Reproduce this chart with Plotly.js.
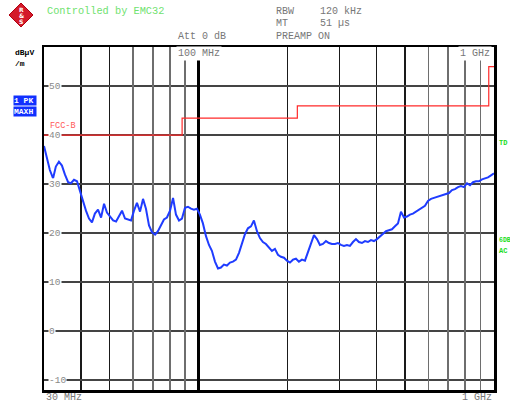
<!DOCTYPE html>
<html><head><meta charset="utf-8">
<script src="https://cdn.plot.ly/plotly-3.0.1.min.js"></script>
<style>html,body{margin:0;padding:0;background:#fff}#chart{width:510px;height:405px}</style>
</head><body><div id="chart"></div>
<script>
// Measured spectrum (MaxPeak), frequency in MHz, level in dBµV/m
const freqMHz = [
30.0,30.7,31.4,32.2,32.9,33.7,34.5,35.3,36.2,37.0,
37.9,38.8,39.7,40.7,41.6,42.6,43.6,44.6,45.7,46.8,
47.9,49.0,50.2,51.4,52.6,53.8,55.1,56.4,57.7,59.1,
60.5,61.9,63.4,64.9,66.4,68.0,69.6,71.3,72.9,74.7,
76.4,78.2,80.1,82.0,83.9,85.9,87.9,90.0,92.1,94.3,
96.5,98.8,101.1,103.5,106.0,108.5,111.0,113.7,116.4,119.1,
121.9,124.8,127.8,130.8,133.9,137.1,140.3,143.6,147.0,150.5,
154.0,157.7,161.4,165.2,169.1,173.1,177.2,181.4,185.7,190.1,
194.6,199.2,203.9,208.8,213.7,218.7,223.9,229.2,234.6,240.2,
245.9,251.7,257.6,263.7,270.0,276.4,282.9,289.6,296.4,303.4,
310.6,318.0,325.5,333.2,341.1,349.1,357.4,365.8,374.5,383.3,
392.4,401.7,411.2,420.9,430.9,441.1,451.5,462.2,473.1,484.3,
495.8,507.5,519.5,531.8,544.4,557.3,570.5,584.0,597.8,612.0,
626.4,641.3,656.4,672.0,687.9,704.2,720.8,737.9,755.3,773.2,
791.5,810.2,829.4,849.0,869.1,889.7,910.7,932.3,954.3,976.9,
1000.0];
const levelDb = [
37.8,35.2,32.9,31.2,33.6,34.6,33.8,32.0,30.4,30.2,
30.9,30.6,28.6,26.4,24.6,23.0,22.2,24.0,24.8,23.2,
26.0,24.2,23.4,22.6,22.4,23.4,24.6,23.0,22.8,22.6,
24.6,26.2,24.4,27.0,25.0,21.6,20.2,19.7,20.4,21.6,
22.8,23.2,24.6,27.2,23.8,22.6,23.0,25.2,25.4,25.0,
24.8,25.0,23.8,22.0,19.4,17.6,16.4,14.2,12.8,13.0,
13.6,13.4,14.0,14.2,14.6,16.0,17.8,19.8,21.0,21.4,
22.6,20.4,19.0,18.2,17.8,17.2,16.4,16.8,15.6,15.2,
15.0,14.4,14.0,14.6,14.8,14.2,14.6,14.4,16.0,17.6,
19.6,18.8,17.6,17.8,18.4,18.0,17.8,17.8,18.0,17.6,
17.4,17.6,17.4,18.2,18.8,18.2,18.0,18.4,18.2,18.6,
18.4,18.8,19.4,20.0,20.4,20.6,20.8,21.4,22.0,24.4,
23.2,23.4,23.8,24.0,24.4,24.8,25.2,25.6,26.6,27.0,
27.2,27.4,27.6,27.8,28.0,28.2,28.8,29.0,29.4,29.6,
29.4,30.2,29.8,30.4,30.6,30.6,31.0,31.2,31.4,31.8,
32.2];
// FCC class B limit line (step starts)
const limitFreqMHz = [30, 88, 216, 960, 1000];
const limitDb = [40, 43.5, 46, 54, 54];
// Grid positions
const gridDarkMHz = [40, 50, 200, 300, 400, 500];
const gridGrayMHz = [60, 70, 80, 90, 600, 700, 800, 900];
const gridBoldMHz = [100];
const yTicks = [-10, 0, 10, 20, 30, 40, 50];

const L = 44, R = 494, T = 47, B = 390;
const px = x => (x - L) / (R - L);
const py = y => (B - y) / (B - T);
const mono = 'Liberation Mono, DejaVu Sans Mono, monospace';
const xr = [Math.log10(30), 3];

const traces = [
  // invisible anchors so the overlaid grid axes get drawn
  {x: gridGrayMHz, y: gridGrayMHz.map(() => yTicks[0]), xaxis: 'x2', mode: 'markers', marker: {opacity: 0}, hoverinfo: 'skip'},
  {x: gridBoldMHz, y: [yTicks[0]], xaxis: 'x3', mode: 'markers', marker: {opacity: 0}, hoverinfo: 'skip'},
  {x: limitFreqMHz, y: limitDb, mode: 'lines', line: {color: '#ff2a2a', width: 1.2, shape: 'hv'}, hoverinfo: 'skip'},
  {x: freqMHz, y: levelDb, mode: 'lines', line: {color: '#1f3cff', width: 2}, hoverinfo: 'skip'}
];

const ann = [];
function txt(x, y, text, opts) {
  ann.push(Object.assign({xref: 'paper', yref: 'paper', x: px(x), y: py(y), text: text,
    showarrow: false, xanchor: 'left', yanchor: 'middle',
    font: {family: mono, size: 10, color: '#777'}}, opts || {}));
}
txt(45, 11, 'Controlled by EMC32', {font: {family: mono, size: 10.3, color: '#6fe26f'}});
txt(274, 11, 'RBW'); txt(318, 11, '120 kHz');
txt(274, 24, 'MT'); txt(318, 24, '51 µs');
txt(176, 37, 'Att 0 dB'); txt(274, 37, 'PREAMP ON');
txt(13, 52, '<b>dBµV</b>', {font: {family: mono, size: 8, color: '#000'}});
txt(13, 63, '<b>/m</b>', {font: {family: mono, size: 8, color: '#000'}});
txt(13, 100, '<b>1 PK</b>', {font: {family: mono, size: 8, color: '#fff'}, bgcolor: '#1030ff', width: 22, align: 'left', borderpad: 0});
txt(13, 111, '<b>MAXH</b>', {font: {family: mono, size: 8, color: '#fff'}, bgcolor: '#1030ff', width: 22, align: 'left', borderpad: 0});
txt(497, 143, '<b>TD</b>', {font: {family: mono, size: 7, color: '#22dd22'}});
txt(497, 240, '<b>6DB</b>', {font: {family: mono, size: 6.5, color: '#22dd22'}});
txt(497, 251, '<b>AC</b>', {font: {family: mono, size: 7, color: '#22dd22'}});
txt(48, 126, 'FCC-B', {font: {family: mono, size: 8.5, color: '#ff5a5a'}});
txt(44, 397, '30 MHz');
txt(494, 397, '1 GHz', {xanchor: 'right'});
ann.push({xref: 'x', yref: 'paper', x: Math.log10(gridBoldMHz[0]), y: py(53), text: '100 MHz', showarrow: false,
  xanchor: 'center', yanchor: 'middle', bgcolor: '#fff', borderpad: 1, font: {family: mono, size: 10, color: '#777'}});
txt(492, 53, '1 GHz', {xanchor: 'right', bgcolor: '#fff', borderpad: 1});
yTicks.forEach(v => ann.push({xref: 'paper', yref: 'y', x: 0, xshift: 4, y: v, text: String(v), showarrow: false,
  xanchor: 'left', yanchor: 'middle', bgcolor: '#fff', borderpad: 0, font: {family: mono, size: 9.5, color: '#888'}}));
// R&S logo letters
txt(21, 10, '<b>R</b>', {xanchor: 'center', font: {family: 'DejaVu Sans', size: 6, color: '#fff'}});
txt(21, 15.5, '<b>&</b>', {xanchor: 'center', font: {family: 'DejaVu Sans', size: 6, color: '#fff'}});
txt(21, 21, '<b>S</b>', {xanchor: 'center', font: {family: 'DejaVu Sans', size: 6, color: '#fff'}});

const shapes = [{type: 'path', xref: 'paper', yref: 'paper',
  path: `M ${px(9)} ${py(15)} L ${px(21)} ${py(3)} L ${px(33)} ${py(15)} L ${px(21)} ${py(27)} Z`,
  fillcolor: '#d41a2a', line: {color: '#b00010', width: 1}}];

const gridAxis = (vals, color, w) => ({type: 'log', range: xr, overlaying: 'x', anchor: 'y', tickmode: 'array',
  tickvals: vals, showticklabels: false, ticks: '', showgrid: true, gridcolor: color, gridwidth: w,
  showline: false, zeroline: false, fixedrange: true});

const layout = {
  width: 510, height: 405,
  margin: {l: L, r: 510 - R, t: T, b: 405 - B},
  paper_bgcolor: '#fff', plot_bgcolor: '#fff',
  showlegend: false,
  xaxis: {type: 'log', range: xr, tickmode: 'array', tickvals: gridDarkMHz, showticklabels: false, ticks: '',
    showgrid: true, gridcolor: '#1a1a1a', gridwidth: 1.3, showline: true, mirror: true, linecolor: '#000', linewidth: 2.5, zeroline: false},
  xaxis2: gridAxis(gridGrayMHz, '#6e6e6e', 1.8),
  xaxis3: gridAxis(gridBoldMHz, '#000', 2.2),
  yaxis: {range: [-12, 58], tickmode: 'array', tickvals: yTicks, showticklabels: false, ticks: '',
    showgrid: true, gridcolor: '#444', gridwidth: 1.5, showline: true, mirror: true, linecolor: '#000', linewidth: 2.5, zeroline: false},
  annotations: ann,
  shapes: shapes
};
Plotly.newPlot('chart', traces, layout, {displayModeBar: false, staticPlot: true});
</script>
</body></html>
